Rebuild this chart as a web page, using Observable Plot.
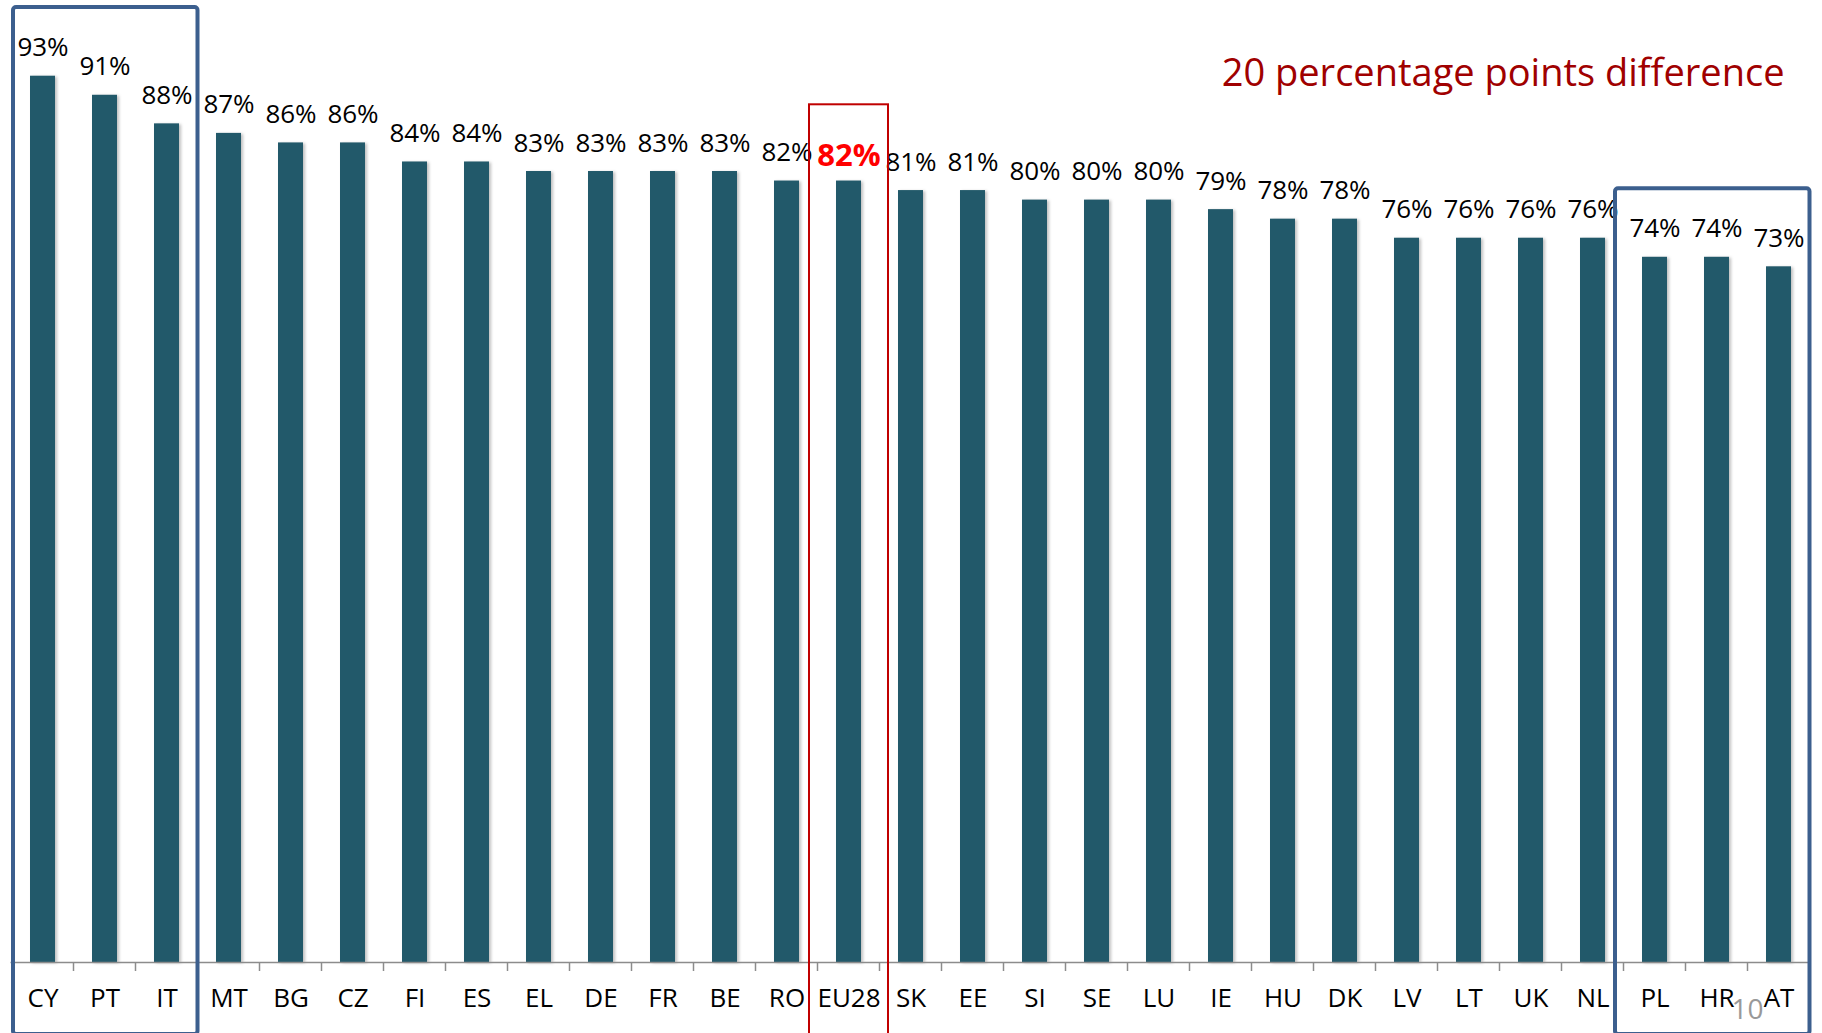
<!DOCTYPE html>
<html>
<head>
<meta charset="utf-8">
<script src="https://cdn.jsdelivr.net/npm/d3@7"></script>
<script src="https://cdn.jsdelivr.net/npm/@observablehq/plot@0.6"></script>
<style>
  html, body { margin: 0; padding: 0; background: #fff; }
  #chart svg { display: block; }
</style>
</head>
<body>
<div id="chart"></div>
<script>
// ---- data ----
const countries = ["CY","PT","IT","MT","BG","CZ","FI","ES","EL","DE","FR","BE","RO","EU28","SK","EE","SI","SE","LU","IE","HU","DK","LV","LT","UK","NL","PL","HR","AT"];
const values = [93,91,88,87,86,86,84,84,83,83,83,83,82,82,81,81,80,80,80,79,78,78,76,76,76,76,74,74,73];
const highlight = "EU28";
const titleText = "20 percentage points difference";
const pageNumber = "10";
// annotation boxes: first category, last category, top value (%)
const boxFrom = ["CY", "PL", "EU28"];
const boxTo = ["IT", "AT", "EU28"];
const boxTop = [100.2, 81.2, 90];

// ---- chart ----
const W = 1822, H = 1033;
const data = countries.map((c, i) => ({country: c, value: values[i]}));
const FONT = "'Open Sans', 'Noto Sans', sans-serif";

const chart = Plot.plot({
  width: W,
  height: H,
  marginLeft: 10.5,
  marginRight: 11,
  marginTop: 9,
  marginBottom: 71,
  style: {fontFamily: FONT, fontSize: "26px", color: "#000", background: "#fff"},
  x: {domain: countries, paddingInner: 0.6, paddingOuter: 0.3, label: null},
  y: {domain: [0, 100], axis: null},
  marks: [
    Plot.barY(data, {x: "country", y: "value", fill: "#22596a"}),
    Plot.ruleY([0], {stroke: "#8c8c8c", strokeWidth: 1.5}),
    Plot.axisX({tickSize: 0, tickPadding: 26, fontSize: 26, label: null}),
    Plot.text(data.filter(d => d.country !== highlight), {
      x: "country", y: "value", text: d => d.value + "%",
      lineAnchor: "bottom", dy: -20, fontSize: 26, fill: "#000"
    }),
    Plot.text(data.filter(d => d.country === highlight), {
      x: "country", y: "value", text: d => d.value + "%",
      lineAnchor: "bottom", dy: -15, fontSize: 31, fontWeight: "bold", fill: "#ff0000"
    }),
    Plot.text([titleText], {
      frameAnchor: "top-right", text: d => d, textAnchor: "end", lineAnchor: "bottom",
      dx: -27, dy: 76, fontSize: 38, fill: "#a00000"
    }),
    Plot.text([pageNumber], {
      frameAnchor: "bottom-right", text: d => d, textAnchor: "end", lineAnchor: "bottom",
      dx: -48, dy: 56, fontSize: 28, fill: "#999999"
    })
  ]
});

document.getElementById("chart").appendChild(chart);

// ---- annotations through the plot's own scales ----
const xsc = chart.scale("x");
const ysc = chart.scale("y");
let xApply = xsc && xsc.apply ? xsc.apply : null;
let bw = xsc && xsc.bandwidth;
let step = xsc && xsc.step;
if (!xApply) {
  const b = d3.scaleBand().domain(countries).range(xsc.range).paddingInner(0.6).paddingOuter(0.3);
  xApply = b; bw = b.bandwidth(); step = b.step();
}
const yApply = ysc && ysc.apply ? ysc.apply : d3.scaleLinear().domain(ysc.domain).range(ysc.range);
const gap = step - bw;
const y0 = yApply(0);
const svg = d3.select(chart);

// bar shadow
svg.selectAll("rect").filter(function() { return this.getAttribute("fill") === "#22596a" || this.parentNode.getAttribute("fill") === "#22596a"; })
  .style("filter", "drop-shadow(2px 1px 1.5px rgba(0,0,0,0.25))");

// boundary ticks
const gT = svg.append("g").attr("stroke", "#8c8c8c").attr("stroke-width", 1.5);
countries.slice(1).forEach(c => {
  const x = xApply(c) - gap / 2;
  gT.append("line").attr("x1", x).attr("x2", x).attr("y1", y0).attr("y2", y0 + 9);
});

// boxes
const boxStroke = ["#3c5f8e", "#3c5f8e", "#c00000"];
const boxWidth = [4, 4, 2];
const padL = [-1.5, 8.5, 8.5];
const padR = [0, 0, 8.5];
const boxBottom = [H + 1, H + 1, H + 6];
boxFrom.forEach((f, i) => {
  const x1 = xApply(f) - gap / 2 - padL[i];
  const x2 = xApply(boxTo[i]) + bw + gap / 2 + padR[i];
  const yt = yApply(boxTop[i]);
  svg.append("rect")
    .attr("x", x1).attr("y", yt)
    .attr("width", x2 - x1).attr("height", boxBottom[i] - yt)
    .attr("rx", i < 2 ? 3 : 0)
    .attr("fill", "none")
    .attr("stroke", boxStroke[i])
    .attr("stroke-width", boxWidth[i]);
});
</script>
</body>
</html>
